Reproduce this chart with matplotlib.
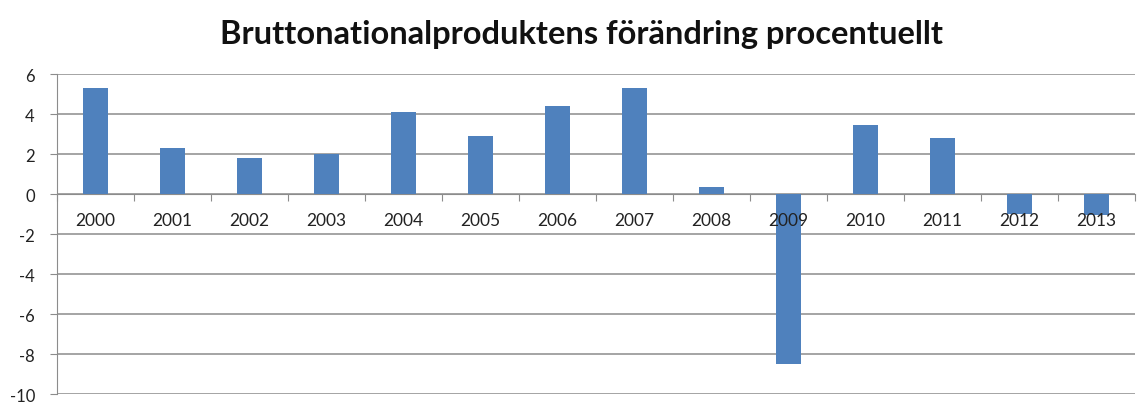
import matplotlib.pyplot as plt
import matplotlib.transforms as mtransforms
import numpy as np

plt.rcParams['font.family'] = ['Lato', 'DejaVu Sans']

years = ['2000', '2001', '2002', '2003', '2004', '2005', '2006',
         '2007', '2008', '2009', '2010', '2011', '2012', '2013']
bnp_change = [5.3, 2.3, 1.8, 2.0, 4.1, 2.9, 4.4,
              5.3, 0.35, -8.5, 3.45, 2.8, -1.0, -1.05]
yticks = [-10, -8, -6, -4, -2, 0, 2, 4, 6]

fig = plt.figure(figsize=(11.42, 4.06), dpi=100)
ax = fig.add_axes([0.05, 0.027, 0.944, 0.788])

x = np.arange(len(years))
ax.bar(x, bnp_change, width=0.33, color='#4F81BD', zorder=3)

ax.set_xlim(-0.5, len(years) - 0.5)
ax.set_ylim(-10, 6)
ax.set_yticks(yticks)
ax.set_yticklabels([str(v) for v in yticks], fontsize=12, color='#222222')
ax.yaxis.grid(True, color='#8c8c8c', linewidth=1.1, zorder=0)
ax.set_axisbelow(True)
ax.tick_params(axis='y', length=5, color='#8c8c8c', pad=11)

# category axis sits on the zero line
ax.spines['bottom'].set_position(('data', 0))
ax.spines['bottom'].set_color('#8c8c8c')
ax.spines['left'].set_color('#8c8c8c')
ax.spines['top'].set_visible(False)
ax.spines['right'].set_visible(False)
ax.set_xticks(np.arange(len(years) + 1) - 0.5)
ax.set_xticklabels([])
ax.tick_params(axis='x', which='major', length=5, color='#8c8c8c')

# year labels drawn on top of the bars, like the original
offset = mtransforms.ScaledTranslation(0, -26 / 100, fig.dpi_scale_trans)
for xi, lab in zip(x, years):
    ax.text(xi, 0, lab, ha='center', va='center', fontsize=12.5,
            color='#222222', zorder=5, transform=ax.transData + offset)

fig.suptitle('Bruttonationalproduktens förändring procentuellt',
             x=0.509, y=0.95, fontsize=23.5, fontweight='bold', color='#111111')

fig.savefig('out.png', dpi=100)
